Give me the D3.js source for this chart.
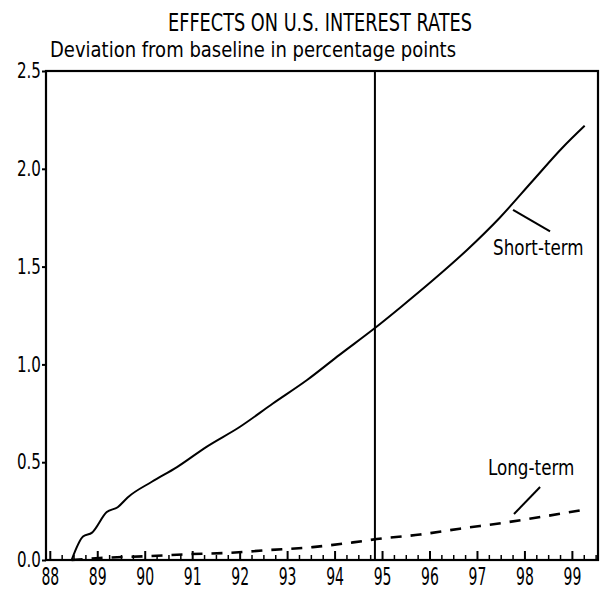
<html lang="en">
<head>
    <meta charset="utf-8">
    <title>Effects on U.S. Interest Rates</title>
    <script type="text/javascript" src="https://cdn.jsdelivr.net/npm/d3@7"></script>
    <style>
        body { margin: 0; background: #fff; }
        text { font-family: "DejaVu Sans", sans-serif; fill: #000; }
    </style>
</head>
<body>
<script type="text/javascript">
    // values (year as 88..99, deviation in percentage points)
    var shortYears = [88.46, 88.70, 88.89, 89.20, 89.43, 89.64, 90.15, 90.68, 91.31, 92.00, 92.70, 93.42, 94.11, 94.85, 95.38, 96.07, 96.79, 97.48, 98.18, 98.81, 99.27];
    var shortValues = [0.00, 0.12, 0.14, 0.245, 0.27, 0.32, 0.40, 0.475, 0.58, 0.68, 0.80, 0.92, 1.05, 1.186, 1.29, 1.43, 1.585, 1.75, 1.94, 2.11, 2.22];
    var longYears = [88.46, 89.05, 90.11, 90.95, 91.73, 92.57, 93.54, 94.39, 94.89, 95.80, 96.64, 97.55, 98.47, 99.32];
    var longValues = [0.00, 0.01, 0.02, 0.03, 0.036, 0.05, 0.066, 0.09, 0.107, 0.13, 0.16, 0.19, 0.225, 0.26];
    var yearTicks = [88, 89, 90, 91, 92, 93, 94, 95, 96, 97, 98, 99];
    var valueTicks = [0, 0.5, 1.0, 1.5, 2.0, 2.5];
    var divider = 94.85;

    chart();

    function chart() {
        var width = 601;
        var height = 590;
        var left = 46, right = 598, top = 71, bottom = 560;

        var svg = d3.select("body").append("svg").attr("width", width).attr("height", height);

        var x = d3.scaleLinear().domain([87.92, 99.55]).range([left, right]);
        var y = d3.scaleLinear().domain([0, 2.5]).range([bottom, top]);

        svg.append("text").text("EFFECTS ON U.S. INTEREST RATES").attr("x", 168).attr("y", 31).attr("font-size", "25px").attr("textLength", 304).attr("lengthAdjust", "spacingAndGlyphs");
        svg.append("text").text("Deviation from baseline in percentage points").attr("x", 50).attr("y", 57).attr("font-size", "21px").attr("textLength", 406).attr("lengthAdjust", "spacingAndGlyphs");

        // quarter ticks along the bottom, pointing up into the plot
        var quarters = d3.range(88, 99.6, 0.25).filter(function (d) { return d % 1 !== 0 });
        var qAxis = d3.axisBottom(x).tickValues(quarters).tickSize(-5).tickFormat("");
        var gq = svg.append("g").attr("transform", "translate(0," + bottom + ")").call(qAxis);
        gq.select(".domain").remove();
        gq.selectAll("line").attr("stroke", "#000").attr("stroke-width", 1.5);

        var xAxis = d3.axisBottom(x).tickValues(yearTicks).tickSize(-9).tickPadding(7).tickFormat(function (d) { return d });
        var gx = svg.append("g").attr("transform", "translate(0," + bottom + ")").call(xAxis);
        gx.select(".domain").remove();
        gx.selectAll("line").attr("stroke", "#000").attr("stroke-width", 2);
        gx.selectAll("text").attr("font-size", "25px").attr("font-family", "DejaVu Sans").attr("transform", "scale(0.56,1)").attr("fill", "#000");

        var yAxis = d3.axisLeft(y).tickValues(valueTicks).tickSize(4).tickPadding(3).tickFormat(d3.format(".1f"));
        var gy = svg.append("g").attr("transform", "translate(" + left + ",0)").call(yAxis);
        gy.select(".domain").remove();
        gy.selectAll("line").attr("stroke", "#000").attr("stroke-width", 2);
        gy.selectAll("text").attr("font-size", "21px").attr("font-family", "DejaVu Sans").attr("transform", "scale(0.72,1)").attr("fill", "#000");

        // frame
        svg.append("rect").attr("x", left).attr("y", top).attr("width", right - left).attr("height", bottom - top).attr("fill", "none").attr("stroke", "#000").attr("stroke-width", 2.2);

        // vertical divider
        svg.append("line").attr("x1", x(divider)).attr("x2", x(divider)).attr("y1", y(2.5)).attr("y2", y(0)).attr("stroke", "#000").attr("stroke-width", 2);

        var shortData = shortYears.map(function (d, i) { return { year: d, value: shortValues[i] } });
        var longData = longYears.map(function (d, i) { return { year: d, value: longValues[i] } });
        var line = d3.line().x(function (d) { return x(d.year) }).y(function (d) { return y(d.value) }).curve(d3.curveMonotoneX);

        svg.append("path").attr("d", line(shortData)).attr("fill", "none").attr("stroke", "#000").attr("stroke-width", 2);
        svg.append("path").attr("d", line(longData)).attr("fill", "none").attr("stroke", "#000").attr("stroke-width", 2.6).attr("stroke-dasharray", "11,9");

        // labels with leader lines
        svg.append("line").attr("x1", x(97.76)).attr("y1", y(1.79)).attr("x2", x(98.54)).attr("y2", y(1.68)).attr("stroke", "#000").attr("stroke-width", 2);
        svg.append("g").attr("transform", "translate(" + x(97.34) + "," + y(1.56) + ") scale(0.76,1)")
            .append("text").text("Short-term").attr("x", 0).attr("y", 0).attr("font-size", "22px");
        svg.append("line").attr("x1", x(98.33)).attr("y1", y(0.373)).attr("x2", x(97.78)).attr("y2", y(0.235)).attr("stroke", "#000").attr("stroke-width", 2);
        svg.append("g").attr("transform", "translate(" + x(97.23) + "," + y(0.435) + ") scale(0.8,1)")
            .append("text").text("Long-term").attr("x", 0).attr("y", 0).attr("font-size", "21px");
    }
</script>
</body>
</html>
